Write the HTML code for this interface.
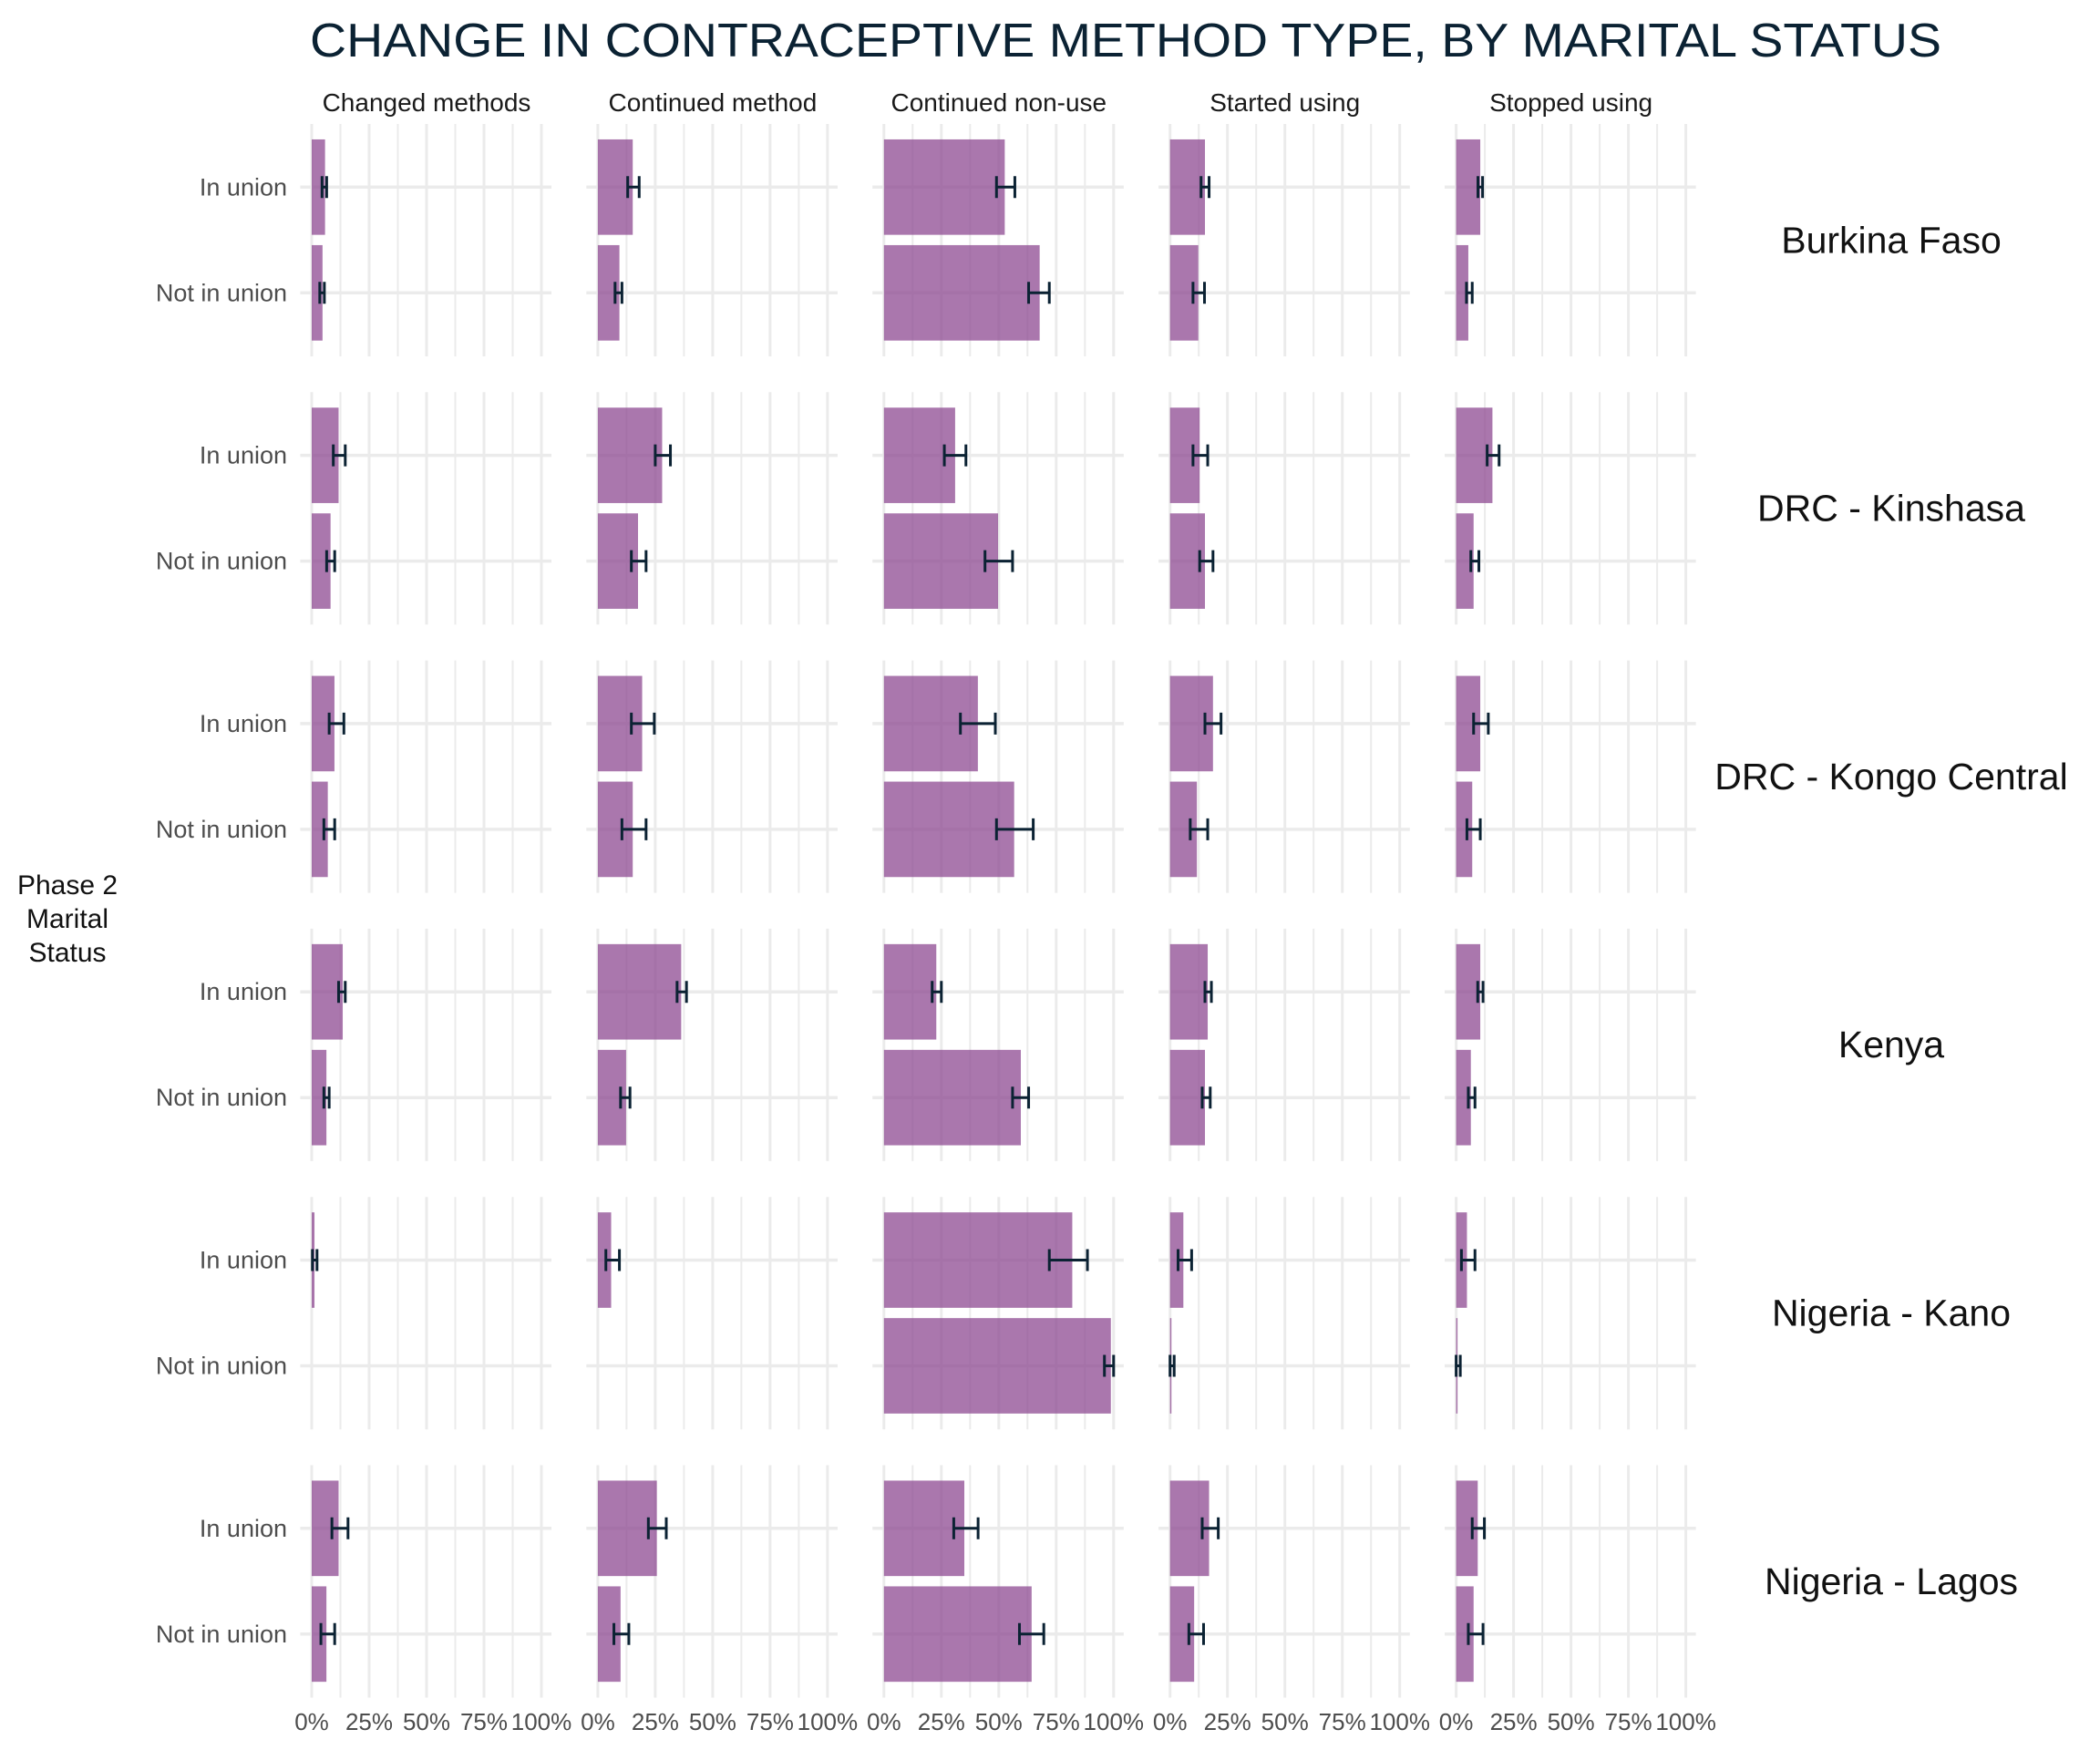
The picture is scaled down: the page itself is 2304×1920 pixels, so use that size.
<!DOCTYPE html>
<html><head><meta charset="utf-8"><style>
html,body{margin:0;padding:0;background:#fff;}
svg{display:block;font-family:"Liberation Sans",sans-serif;}
</style></head><body>
<svg id="chart" width="2304" height="1920" viewBox="0 0 2304 1920" xmlns="http://www.w3.org/2000/svg">
<rect width="2304" height="1920" fill="#fff"/>
<text x="1235" y="62" text-anchor="middle" font-size="52" fill="#0b2233" textLength="1790" lengthAdjust="spacingAndGlyphs">CHANGE IN CONTRACEPTIVE METHOD TYPE, BY MARITAL STATUS</text>
<text x="74" y="0" text-anchor="middle" font-size="30" fill="#111"><tspan x="74" y="981">Phase 2</tspan><tspan x="74" y="1018">Marital</tspan><tspan x="74" y="1055">Status</tspan></text>
<g id="plot"></g>
</svg>
<script>
const methods = ["Changed methods","Continued method","Continued non-use","Started using","Stopped using"];
const regions = ["Burkina Faso","DRC - Kinshasa","DRC - Kongo Central","Kenya","Nigeria - Kano","Nigeria - Lagos"];
const statuses = ["In union","Not in union"];
const tickValues = [0,25,50,75,100];
const tickLabels = ["0%","25%","50%","75%","100%"];
const inUnion = [
 [5.8,15.2,52.6,15.2,10.5],
 [11.7,28,31,12.9,15.8],
 [9.9,19.3,40.9,18.7,10.5],
 [13.5,36.3,22.8,16.4,10.5],
 [1.2,5.8,82,5.8,4.7],
 [11.7,25.7,35,17,9.4]];
const inUnionLow = [
 [4.5,13,49,13.5,9.5],
 [9.4,25,26.3,10,13.5],
 [7.6,14.6,33.3,15.2,7.6],
 [11.7,34.5,21,15.2,9.4],
 [0.3,3.5,72,3.5,2.3],
 [8.8,22,30.4,14,7]];
const inUnionHigh = [
 [6.5,18,57,17,11.5],
 [14.6,31.6,35.7,16.4,18.7],
 [14,24.6,48.5,22.2,14],
 [14.6,38.6,25,18,11.7],
 [2.3,9.4,88.6,9.4,8.2],
 [15.8,29.8,41,21,12.3]];
const notInUnion = [
 [4.7,9.4,67.8,12.3,5.3],
 [8.2,17.5,49.7,15.2,7.6],
 [7,15.2,56.7,11.7,7],
 [6.4,12.3,59.6,15.2,6.4],
 [null,null,98.8,0.6,0.6],
 [6.4,9.9,64.3,10.5,7.6]];
const notInUnionLow = [
 [3.5,7.5,63,10,4.5],
 [6.5,14.6,44,12.9,6.4],
 [5.3,10.5,49,8.8,4.7],
 [5.3,9.9,56,14,5.3],
 [null,null,96,0,0],
 [4,7,59,8.2,5.3]];
const notInUnionHigh = [
 [5.5,10.5,72,15,7],
 [10,21,56,18.7,9.9],
 [10,21,65,16.4,10.5],
 [7.6,14,63,17.5,8.2],
 [null,null,100,1.8,1.8],
 [10,13.5,69.6,14.6,11.7]];

const NS="http://www.w3.org/2000/svg";
const plot=document.getElementById('plot');
const COL0=342, COLP=313.9, PXPER=2.52, ROW0=136, ROWP=294.3, PH=255;
const CATOFF=[69.3,185.3], BARH=104.7;
function xS(c,v){return COL0+c*COLP+v*PXPER;}
function yS(r,k){return ROW0+r*ROWP+CATOFF[k];}
function mk(tag,attrs){const e=document.createElementNS(NS,tag);for(const k in attrs)e.setAttribute(k,attrs[k]);plot.appendChild(e);return e;}

methods.forEach((m,c)=>{
  const t=mk('text',{x:xS(c,50),y:122,'text-anchor':'middle','font-size':28,fill:'#1a1a1a'});
  t.textContent=m;
  
  
});

regions.forEach((rg,r)=>{
  const top=ROW0+r*ROWP;
  const lab=mk('text',{x:2075,y:(yS(r,0)+yS(r,1))/2+14,'text-anchor':'middle','font-size':41,fill:'#111'});
  lab.textContent=rg;
  
  
  statuses.forEach((s,k)=>{
    const tl=mk('text',{x:315,y:yS(r,k)+9,'text-anchor':'end','font-size':27,fill:'#4d4d4d'});
    tl.textContent=s;
    
    
  });
  methods.forEach((m,c)=>{
    const x0=xS(c,0);
    for(let v=0;v<=100;v+=12.5){
      const g=mk('line',{x1:xS(c,v),x2:xS(c,v),y1:top,y2:top+PH,stroke:'#ebebeb','stroke-width':(v%25===0)?3:2});
      
      
    }
    statuses.forEach((s,k)=>{
      const g=mk('line',{x1:x0-12.6,x2:xS(c,104.4),y1:yS(r,k),y2:yS(r,k),stroke:'#ebebeb','stroke-width':3.5});
      
      
    });
    const vals=[inUnion[r][c],notInUnion[r][c]];
    const lows=[inUnionLow[r][c],notInUnionLow[r][c]];
    const highs=[inUnionHigh[r][c],notInUnionHigh[r][c]];
    statuses.forEach((s,k)=>{
      const v=vals[k]; if(v===null) return;
      const cy=yS(r,k);
      const b=mk('rect',{x:x0,y:cy-BARH/2,width:Math.max(xS(c,v)-x0,1),height:BARH,fill:'#8d4a91','fill-opacity':0.75});
      
      
      const lo=xS(c,lows[k]), hi=xS(c,highs[k]);
      const eg=document.createElementNS(NS,'path');
      eg.setAttribute('d',`M${lo},${cy-12}V${cy+12}M${hi},${cy-12}V${cy+12}M${lo},${cy}H${hi}`);
      eg.setAttribute('stroke','#0b2233');eg.setAttribute('stroke-width',3);eg.setAttribute('fill','none');
      
      
      plot.appendChild(eg);
    });
  });
});

methods.forEach((m,c)=>{
  tickValues.forEach((v,i)=>{
    const t=mk('text',{x:xS(c,v),y:1898,'text-anchor':'middle','font-size':26,fill:'#4d4d4d'});
    t.textContent=tickLabels[i];
    
    
  });
});
</script>
</body></html>
